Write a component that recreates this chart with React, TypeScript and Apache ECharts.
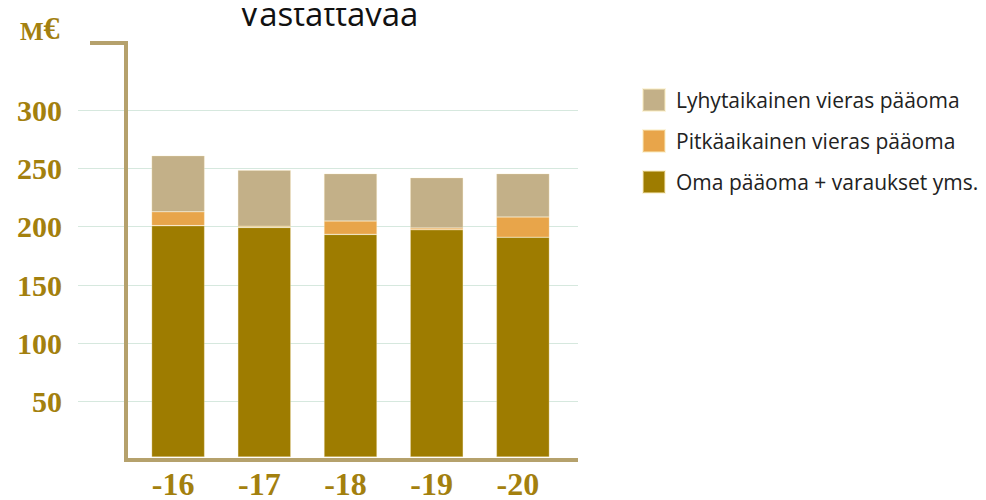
import React, { useEffect, useRef } from "react";
import * as echarts from "echarts";

const categories = ["-16", "-17", "-18", "-19", "-20"];
const omaPaaoma = [200, 198.5, 192.5, 196.5, 190];
const pitkaaikainen = [12, 1, 11.5, 1.5, 17.5];
const lyhytaikainen = [48.5, 48.5, 41, 43.5, 37.5];
const yTicks = [0, 50, 100, 150, 200, 250, 300];

const GOLD = "#9e7c00";
const LABEL = "#a3800e";
const FRAME = "#b5a16c";

export default function App() {
  const ref = useRef<HTMLDivElement>(null);
  useEffect(() => {
    if (!ref.current) return;
    const chart = echarts.init(ref.current, undefined, { renderer: "svg" });
    const serif = "Liberation Serif";
    chart.setOption({
      animation: false,
      title: {
        text: "Vastattavaa",
        left: 324,
        textAlign: "center",
        top: -8,
        textStyle: { fontFamily: "Open Sans", fontWeight: "normal", fontSize: 33, color: "#111" },
      },
      legend: {
        left: 642,
        top: 88,
        orient: "vertical",
        itemWidth: 22,
        itemHeight: 22,
        itemGap: 17,
        padding: 0,
        icon: "rect",
        data: ["Lyhytaikainen vieras pääoma", "Pitkäaikainen vieras pääoma", "Oma pääoma + varaukset yms."],
        textStyle: { fontFamily: "Open Sans", fontSize: 21, color: "#222", padding: [0, 0, 0, 6] },
      },
      grid: [
        { left: 78, width: 500, top: 110, height: 350 },
        { left: 135, width: 431, top: 110, height: 350 },
      ],
      xAxis: [
        { type: "category", gridIndex: 0, data: categories, show: false },
        {
          type: "category",
          gridIndex: 1,
          data: categories,
          axisLine: { show: false },
          axisTick: { show: false },
          axisLabel: {
            margin: 14,
            lineHeight: 26,
            padding: [0, 10, 0, 0],
            fontFamily: serif,
            fontWeight: "bold",
            fontSize: 32,
            color: LABEL,
          },
        },
      ],
      yAxis: [
        {
          type: "value",
          gridIndex: 0,
          min: yTicks[0],
          max: yTicks[yTicks.length - 1],
          interval: 50,
          axisLine: { show: false },
          axisTick: { show: false },
          splitLine: { showMinLine: false, lineStyle: { color: "#d6e8de", width: 1 } },
          axisLabel: {
            margin: 16,
            showMinLabel: false,
            fontFamily: serif,
            fontWeight: "bold",
            fontSize: 30,
            color: LABEL,
          },
        },
        {
          type: "value",
          gridIndex: 1,
          min: yTicks[0],
          max: yTicks[yTicks.length - 1],
          interval: 50,
          show: false,
          splitLine: { show: false },
        },
      ],
      series: [
        {
          name: "Oma pääoma + varaukset yms.",
          type: "bar",
          stack: "s",
          xAxisIndex: 1,
          yAxisIndex: 1,
          barWidth: 53,
          data: omaPaaoma,
          itemStyle: { color: GOLD, borderColor: "rgba(250,235,190,0.5)", borderWidth: 0.6 },
        },
        {
          name: "Pitkäaikainen vieras pääoma",
          type: "bar",
          stack: "s",
          xAxisIndex: 1,
          yAxisIndex: 1,
          barWidth: 53,
          data: pitkaaikainen,
          itemStyle: { color: "#e8a54a", borderColor: "rgba(250,235,190,0.5)", borderWidth: 0.6 },
        },
        {
          name: "Lyhytaikainen vieras pääoma",
          type: "bar",
          stack: "s",
          xAxisIndex: 1,
          yAxisIndex: 1,
          barWidth: 53,
          data: lyhytaikainen,
          itemStyle: { color: "#c3b088", borderColor: "rgba(250,235,190,0.5)", borderWidth: 0.6 },
        },
      ],
      graphic: [
        {
          type: "polyline",
          z: 100,
          shape: { points: [[90, 43], [126, 43], [126, 460], [578, 460]] },
          style: { stroke: FRAME, lineWidth: 4, fill: null },
        },
        {
          type: "text",
          left: 20,
          top: 12,
          style: {
            text: "{m|M}{e|€}",
            rich: {
              m: { fontFamily: serif, fontWeight: "bold", fontSize: 25, fill: LABEL, verticalAlign: "bottom" },
              e: { fontFamily: serif, fontWeight: "bold", fontSize: 32, fill: LABEL, verticalAlign: "bottom" },
            },
          },
        },
      ],
    });
    return () => chart.dispose();
  }, []);
  return <div ref={ref} style={{ width: 986, height: 500, marginLeft: -8, marginTop: -8 }} />;
}
